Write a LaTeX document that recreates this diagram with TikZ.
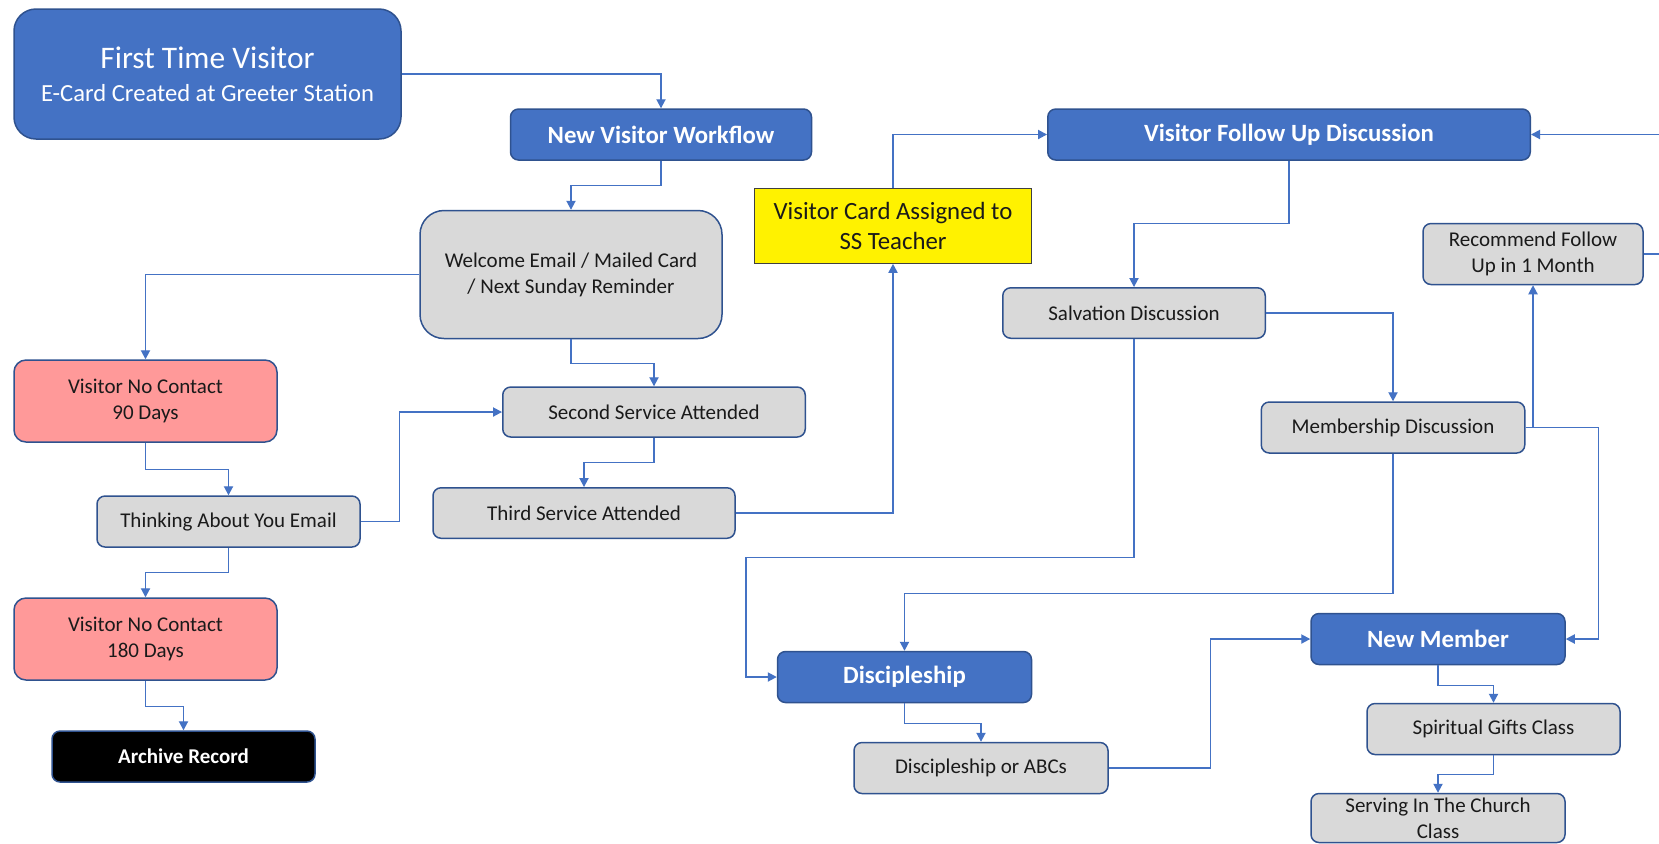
\documentclass[tikz,border=0pt]{standalone}
\usepackage{fontspec}
\setmainfont{Carlito}
\usetikzlibrary{arrows.meta}
\definecolor{bluef}{HTML}{4472C4}
\definecolor{bordc}{HTML}{2F528F}
\definecolor{grayf}{HTML}{D9D9D9}
\definecolor{pinkf}{HTML}{FF9999}
\definecolor{linec}{HTML}{4472C4}
\definecolor{txt}{HTML}{1A1A1A}
\tikzset{
  base/.style={rounded corners=4pt, draw=bordc, line width=0.75pt, align=center, inner sep=0pt,
    font=\fontsize{10.5}{13}\selectfont, text=txt},
  gbox/.style={base, fill=grayf},
  bbox/.style={base, fill=bluef, text=white, font=\bfseries\fontsize{12.4}{15}\selectfont},
  pbox/.style={base, fill=pinkf, rounded corners=6pt},
  kbox/.style={base, fill=black, text=white, font=\bfseries\fontsize{10.5}{13}\selectfont},
  ybox/.style={draw=black!75, line width=0.6pt, fill=yellow, align=center, inner sep=0pt,
    font=\fontsize{12.4}{15.3}\selectfont, text=txt},
  conn/.style={draw=linec, line width=0.7pt, -{Triangle[length=4.5pt,width=4.6pt]}},
  plain/.style={draw=linec, line width=0.7pt}
}
\begin{document}
\begin{tikzpicture}[x=0.5pt,y=-0.5pt]
\useasboundingbox (0,0) rectangle (1659,843);
\clip (0,0) rectangle (1659,843);
\fill[white] (0,0) rectangle (1659,843);
% nodes
\node[bbox, rounded corners=11pt, minimum width=193.5pt, minimum height=65pt,
  font=\fontsize{12.3}{16.5}\selectfont] (ftv) at (207.5,74)
  {{\fontsize{15.7}{16.5}\selectfont First Time Visitor}\\E-Card Created at Greeter Station};
\node[bbox, minimum width=150.5pt, minimum height=25.5pt] (nvw) at (661,134.5) {New Visitor Workflow};
\node[gbox, rounded corners=12pt, minimum width=151pt, minimum height=64pt] (wel) at (571,274.5)
  {Welcome Email / Mailed Card\\/ Next Sunday Reminder};
\node[pbox, minimum width=131.5pt, minimum height=41pt] (nc90) at (145.5,401) {Visitor No Contact\\90 Days};
\node[gbox, minimum width=151.25pt, minimum height=25pt] (ss) at (654,412) {Second Service Attended};
\node[gbox, minimum width=131.5pt, minimum height=25.5pt] (tay) at (228.5,521.5) {Thinking About You Email};
\node[gbox, minimum width=151pt, minimum height=25.25pt] (ts) at (584,513) {Third Service Attended};
\node[pbox, minimum width=131.5pt, minimum height=41pt] (nc180) at (145.5,639) {Visitor No Contact\\180 Days};
\node[kbox, minimum width=131.5pt, minimum height=25.5pt] (arc) at (183.5,756.5) {Archive Record};
\node[ybox, minimum width=138.75pt, minimum height=37.25pt] (vca) at (893,226) {Visitor Card Assigned to\\SS Teacher};
\node[bbox, minimum width=241.25pt, minimum height=25.5pt] (vfu) at (1289,134.5) {Visitor Follow Up Discussion};
\node[gbox, minimum width=131.25pt, minimum height=25.25pt] (sal) at (1134,313) {Salvation Discussion};
\node[gbox, minimum width=110pt, minimum height=30.5pt] (rec) at (1533,254) {Recommend Follow\\Up in 1 Month};
\node[gbox, minimum width=131.75pt, minimum height=25.5pt] (mem) at (1393,427.5) {Membership Discussion};
\node[bbox, minimum width=127pt, minimum height=25.5pt] (dis) at (904.5,677) {Discipleship};
\node[bbox, minimum width=127pt, minimum height=25.5pt] (nm) at (1438,639) {New Member};
\node[gbox, minimum width=127pt, minimum height=25.5pt] (abc) at (981,768) {Discipleship or ABCs};
\node[gbox, minimum width=126.5pt, minimum height=25.5pt] (sgc) at (1493.5,729) {Spiritual Gifts Class};
\node[gbox, minimum width=127pt, minimum height=24.5pt] (sit) at (1438,818) {Serving In The Church\\Class};
% helper coordinates
\coordinate (n1) at (746,557.6);
\coordinate (qout) at (1700,254);
% connectors
\draw[conn] (ftv.east) -| (nvw.north);
\draw[conn] (nvw.south) -- ++(0,25) -| (wel.north);
\draw[conn] (wel.west) -| (nc90.north);
\draw[conn] (wel.south) -- ++(0,24) -| (ss.north);
\draw[conn] (nc90.south) -- ++(0,27) -| (tay.north);
\draw[conn] (tay.east) -- ++(38.5,0) |- (ss.west);
\draw[conn] (ss.south) -- ++(0,25) -| (ts.north);
\draw[conn] (tay.south) -- ++(0,25) -| (nc180.north);
\draw[conn] (nc180.south) -- ++(0,26) -| (arc.north);
\draw[conn] (ts.east) -| (vca.south);
\draw[conn] (vca.north) |- (vfu.west);
\draw[conn] (vfu.south) -- ++(0,63) -| (sal.north);
\draw[conn] (sal.east) -| (mem.north);
\draw[conn] (sal.south) |- (n1) |- (dis.west);
\draw[conn] (mem.south) -- ++(0,140) -| (dis.north);
\draw[conn] (mem.east) -- ++(73,0) |- (nm.east);
\draw[conn] (mem.east) -| (rec.south);
\draw[conn] (rec.east) -- (qout) |- (vfu.east);
\draw[conn] (dis.south) -- ++(0,20) -| (abc.north);
\draw[conn] (abc.east) -- ++(101.5,0) |- (nm.west);
\draw[conn] (nm.south) -- ++(0,20) -| (sgc.north);
\draw[conn] (sgc.south) -- ++(0,19.5) -| (sit.north);
\end{tikzpicture}
\end{document}
